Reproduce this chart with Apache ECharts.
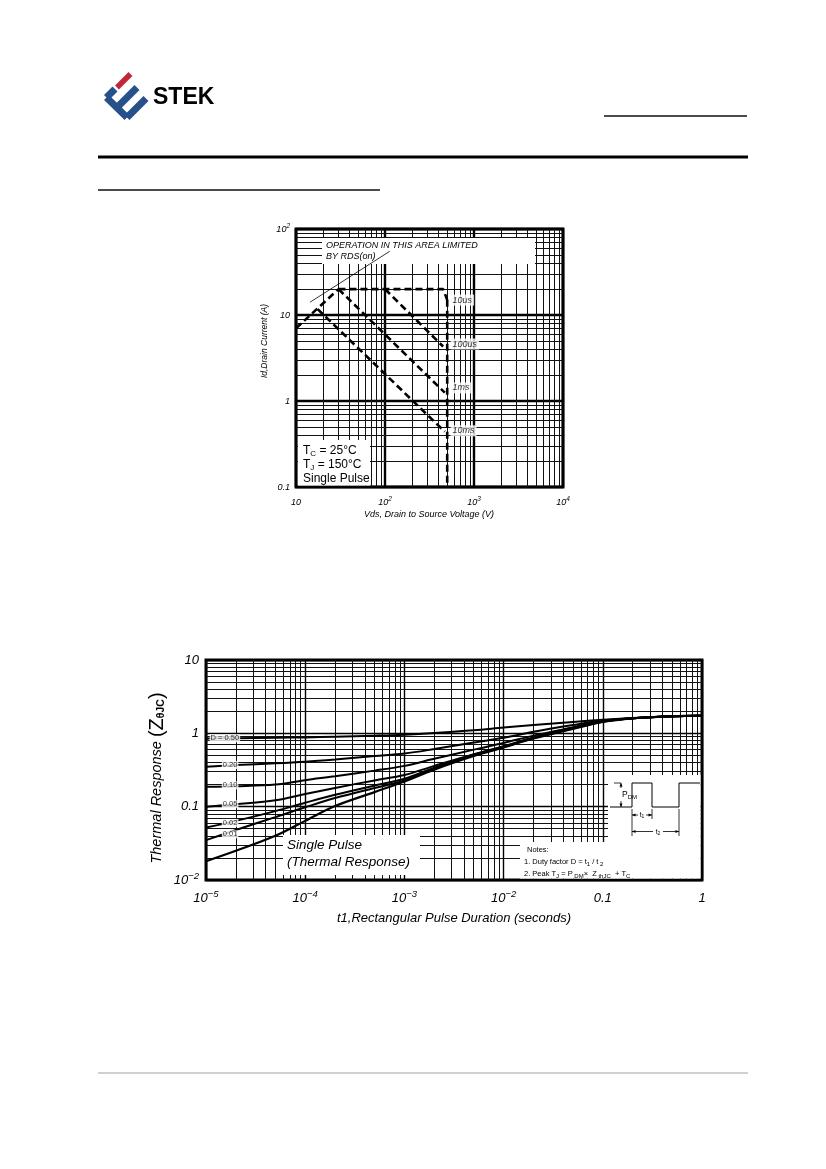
<!DOCTYPE html>
<html><head><meta charset="utf-8">
<script src="https://cdn.jsdelivr.net/npm/echarts@6/dist/echarts.min.js"></script>
<style>html,body{margin:0;padding:0;background:#fff;}#c{width:826px;height:1169px;}</style>
</head><body><div id="c"></div>
<script>
// ===== Safe Operating Area chart (Vds [V], Id [A]) =====
const soaRdsLimit = [[10, 7.0], [30, 20]];
const soa10us = [[30, 20], [450, 20], [500, 15]];
const soa100us = [[100, 20], [450, 4.3]];
const soa1ms = [[30, 20], [470, 1.25]];
const soa10ms = [[17.5, 11.7], [470, 0.44]];
const soaVdsLimit = [[500, 15], [500, 0.1]];
const soaPointer = [[14.4, 14.1], [113, 55]];
const soaLabelNames = ['10us', '100us', '1ms', '10ms'];
const soaLabelPos = [[505, 14.9], [505, 4.6], [505, 1.42], [505, 0.45]];
const soaXTicks = [10, 100, 1000, 10000];
const soaYTicks = [0.1, 1, 10, 100];

// ===== Transient thermal response chart (t1 [s], Zth) =====
const tPulse = [1e-5, 2e-5, 5e-5, 1e-4, 2e-4, 5e-4, 1e-3, 2e-3, 5e-3, 1e-2, 2e-2, 5e-2, 0.1, 0.2, 0.5, 1];
const zD050 = [0.85, 0.86, 0.87, 0.88, 0.90, 0.93, 0.96, 1.01, 1.10, 1.20, 1.30, 1.43, 1.53, 1.62, 1.71, 1.74];
const zD020 = [0.35, 0.37, 0.39, 0.41, 0.44, 0.49, 0.53, 0.61, 0.75, 0.87, 1.05, 1.30, 1.50, 1.61, 1.71, 1.74];
const zD010 = [0.187, 0.19, 0.20, 0.23, 0.26, 0.31, 0.36, 0.45, 0.60, 0.74, 0.93, 1.21, 1.47, 1.60, 1.71, 1.74];
const zD005 = [0.10, 0.108, 0.122, 0.149, 0.18, 0.228, 0.27, 0.36, 0.52, 0.67, 0.88, 1.18, 1.46, 1.60, 1.71, 1.74];
const zD002 = [0.052, 0.064, 0.087, 0.113, 0.145, 0.194, 0.24, 0.34, 0.51, 0.66, 0.87, 1.17, 1.45, 1.60, 1.71, 1.74];
const zD001 = [0.035, 0.048, 0.072, 0.098, 0.131, 0.18, 0.227, 0.33, 0.50, 0.65, 0.86, 1.16, 1.44, 1.60, 1.71, 1.74];
const zSingle = [0.018, 0.025, 0.040, 0.064, 0.102, 0.158, 0.221, 0.32, 0.49, 0.64, 0.85, 1.15, 1.43, 1.60, 1.71, 1.74];
const dLabelNames = ['D = 0.50', '0.20', '0.10', '0.05', '0.02', '0.01'];
const dLabelPos = [[1.55e-5, 0.855], [1.75e-5, 0.37], [1.75e-5, 0.195], [1.75e-5, 0.108], [1.75e-5, 0.06], [1.75e-5, 0.042]];
const thXTicks = [1e-5, 1e-4, 1e-3, 1e-2, 0.1, 1];
const thYTicks = [0.01, 0.1, 1, 10];

// ---------- helpers ----------
const FONT = '"Liberation Sans", Arial, Helvetica, sans-serif';
function minorLogValues(loExp, hiExp) {
  const out = [];
  for (let e = loExp; e < hiExp; e++) for (let k = 2; k <= 9; k++) out.push(k * Math.pow(10, e));
  return out;
}
function expOf(v) { return Math.round(Math.log10(v)); }
function soaLabel(v) {
  const e = expOf(v);
  if (e === -1) return '{b|0.1}';
  if (e === 0) return '{b|1}';
  if (e === 1) return '{b|10}';
  return '{b|10}{s|' + e + '}';
}
function thLabel(v) {
  const e = expOf(v);
  if (e === -1) return '{b|0.1}';
  if (e === 0) return '{b|1}';
  if (e === 1) return '{b|10}';
  return '{b|10}{s|\u2212' + Math.abs(e) + '}';
}
function pairs(xs, ys) { return xs.map((x, i) => [x, ys[i]]); }
function supRich(base, sup) {
  return {
    b: { fontSize: base, fontStyle: 'italic', fontFamily: FONT, color: '#000', lineHeight: Math.round(base * 1.35) },
    s: { fontSize: sup, fontStyle: 'italic', fontFamily: FONT, color: '#000', lineHeight: sup, verticalAlign: 'top' }
  };
}

const chart = echarts.init(document.getElementById('c'), null, { renderer: 'canvas', width: 826, height: 1169 });

// minor log grid lines drawn as segments through the axes
function gridLines(idx, xTicks, yTicks, color, width) {
  const x0 = xTicks[0], x1 = xTicks[xTicks.length - 1], y0 = yTicks[0], y1 = yTicks[yTicks.length - 1];
  const data = minorLogValues(expOf(x0), expOf(x1)).map(v => ({ coords: [[v, y0], [v, y1]] }))
    .concat(minorLogValues(expOf(y0), expOf(y1)).map(v => ({ coords: [[x0, v], [x1, v]] })));
  return { type: 'lines', coordinateSystem: 'cartesian2d', xAxisIndex: idx, yAxisIndex: idx, polyline: false, silent: true,
    z: 1, zlevel: 0, effect: { show: false }, lineStyle: { color, width, opacity: 1, curveness: 0 }, data };
}

const dash = { color: '#000', width: 2.6, type: [7, 4] };
const soaLine = (data) => ({ type: 'line', xAxisIndex: 0, yAxisIndex: 0, data, symbol: 'none', lineStyle: dash, zlevel: 2, z: 10, silent: true });
const thLine = (ys, w) => ({ type: 'line', xAxisIndex: 1, yAxisIndex: 1, data: pairs(tPulse, ys), symbol: 'none', smooth: 0.35, lineStyle: { color: '#000', width: w }, zlevel: 2, z: 10, silent: true });

// ---------- graphic decorations ----------
const ZL = 1;
function band(ax, ay, bx, by, w, fill) {
  const dx = bx - ax, dy = by - ay, L = Math.hypot(dx, dy);
  const nx = -dy / L * w / 2, ny = dx / L * w / 2;
  return { type: 'polygon', zlevel: ZL, z: 30, silent: true, shape: { points: [[ax + nx, ay + ny], [bx + nx, by + ny], [bx - nx, by - ny], [ax - nx, ay - ny]] }, style: { fill } };
}
const gl = (x1, y1, x2, y2, w, c) => ({ type: 'line', zlevel: ZL, z: 30, silent: true, shape: { x1, y1, x2, y2 }, style: { stroke: c || '#000', lineWidth: w || 1 } });
const gt = (x, y, text, font, extra) => Object.assign({ type: 'text', zlevel: ZL, z: 31, silent: true, x, y, style: Object.assign({ text, font, fill: '#000', align: 'left', verticalAlign: 'middle' }, (extra && extra.style) || {}) }, (extra && extra.el) || {});
const grect = (x, y, w, h) => ({ type: 'rect', zlevel: ZL, z: 5, silent: true, shape: { x, y, width: w, height: h }, style: { fill: '#fff' } });
const tri = (pts) => ({ type: 'polygon', zlevel: ZL, z: 30, silent: true, shape: { points: pts }, style: { fill: '#000' } });
const rt = (x, y, text, rich, extraStyle, extraEl) => Object.assign({ type: 'text', zlevel: ZL, z: 31, silent: true, x, y, style: Object.assign({ text, align: 'left', verticalAlign: 'middle', rich }, extraStyle || {}) }, extraEl || {});
const subRich = (a, s, la) => ({ a: { font: a, lineHeight: la }, s: { font: s, lineHeight: 6, verticalAlign: 'bottom' } });

const BLUE = '#26518a', RED = '#c3263a';
const graphics = [
  // logo
  band(106.5, 97.5, 127, 117.5, 7, BLUE),
  band(106.5, 97.5, 115, 89, 7, BLUE),
  band(117, 87.5, 130.5, 74, 5.5, RED),
  band(117, 107.5, 137, 87.5, 7, BLUE),
  band(127, 117.5, 146, 98.5, 7, BLUE),
  gt(153, 98, 'STEK', 'bold 23px ' + FONT),
  // page rules
  gl(604, 116, 747, 116, 1.6, '#111'),
  gl(98, 157, 748, 157, 3, '#000'),
  gl(98, 190, 380, 190, 1.6, '#111'),
  gl(98, 1073, 748, 1073, 0.8, '#888'),

  // SOA annotation boxes
  grect(322, 238, 213, 26),
  gt(326, 245, 'OPERATION IN THIS AREA LIMITED', 'italic 9px ' + FONT),
  gt(326, 256, 'BY RDS(on)', 'italic 9px ' + FONT),
  grect(298, 440, 72, 45.5),
  rt(303, 451, '{a|T}{s|C}{a| = 25\u00b0C}', subRich('12px ' + FONT, '8px ' + FONT, 14)),
  rt(303, 465, '{a|T}{s|J}{a| = 150\u00b0C}', subRich('12px ' + FONT, '8px ' + FONT, 14)),
  gt(303, 479, 'Single Pulse', '12px ' + FONT),
  // SOA axis titles
  gt(429, 514, 'Vds, Drain to Source Voltage (V)', 'italic 9px ' + FONT, { style: { align: 'center' } }),
  gt(265, 341, 'Id,Drain Current (A)', 'italic 8.5px ' + FONT, { style: { align: 'center' }, el: { rotation: Math.PI / 2 } }),

  // thermal chart boxes
  grect(283, 835, 137, 40),
  gt(287, 845, 'Single Pulse', 'italic 13.5px ' + FONT),
  gt(287, 862, '(Thermal Response)', 'italic 13.5px ' + FONT),
  { type: 'polygon', zlevel: ZL, z: 5, silent: true, shape: { points: [[608, 775], [700.5, 775], [700.5, 878.5], [520, 878.5], [520, 842], [608, 842]] }, style: { fill: '#fff' } },
  gt(527, 850, 'Notes:', '7.5px ' + FONT),
  rt(524, 862, '{a|1. Duty factor D = t}{s|1}{a| / t}{s| 2}', subRich('7.5px ' + FONT, '6px ' + FONT, 10)),
  rt(524, 874, '{a|2. Peak T}{s|J}{a| = P}{s| DM}{a|\u00d7  Z}{s| thJC}{a|  + T}{s|C}', subRich('7.5px ' + FONT, '6px ' + FONT, 10)),
  // pulse waveform inset
  { type: 'polyline', zlevel: ZL, z: 30, silent: true, shape: { points: [[610, 807], [632, 807], [632, 783], [652, 783], [652, 807], [679, 807], [679, 783], [700, 783]] }, style: { stroke: '#000', lineWidth: 1, fill: null } },
  gl(614, 783, 621, 783, 0.8),
  gl(621, 783, 621, 788, 0.8), tri([[621, 783], [619.5, 786.5], [622.5, 786.5]]),
  gl(621, 801, 621, 807, 0.8), tri([[621, 807], [619.5, 803.5], [622.5, 803.5]]),
  rt(622, 795, '{a|P}{s|DM}', subRich('8.5px ' + FONT, '6px ' + FONT, 10)),
  gl(632, 809, 632, 836, 0.8), gl(652, 809, 652, 819, 0.8), gl(679, 809, 679, 836, 0.8),
  gl(632, 815, 638, 815, 0.8), gl(646, 815, 652, 815, 0.8),
  tri([[632, 815], [635.5, 813.5], [635.5, 816.5]]), tri([[652, 815], [648.5, 813.5], [648.5, 816.5]]),
  rt(642, 815, '{a|t}{s|1}', subRich('7px ' + FONT, '5px ' + FONT, 9), { align: 'center' }),
  gl(632, 831.5, 653, 831.5, 0.8), gl(663, 831.5, 679, 831.5, 0.8),
  tri([[632, 831.5], [635.5, 830], [635.5, 833]]), tri([[679, 831.5], [675.5, 830], [675.5, 833]]),
  rt(658, 832, '{a|t}{s|2}', subRich('7px ' + FONT, '5px ' + FONT, 9), { align: 'center' }),
  // thermal axis titles
  gt(454, 918, 't1,Rectangular Pulse Duration (seconds)', 'italic 13px ' + FONT, { style: { align: 'center' } }),
  rt(157, 778, '{a|Thermal Response }{b|(Z}{c|\u03b8JC}{b|)}',
    { a: { font: 'italic 14.5px ' + FONT, lineHeight: 20, verticalAlign: 'middle' }, b: { font: '20px ' + FONT, lineHeight: 20 }, c: { font: 'bold 10.5px ' + FONT, lineHeight: 10, verticalAlign: 'bottom' } },
    { align: 'center' }, { rotation: Math.PI / 2 })
];

const axisCommon = { axisLine: { show: false }, axisTick: { show: false } };
const option = {
  animation: false,
  backgroundColor: '#fff',
  grid: [
    { left: 296, top: 229, width: 267, height: 258, show: true, borderColor: '#000', borderWidth: 3, backgroundColor: 'transparent' },
    { left: 206, top: 660, width: 496, height: 220, show: true, borderColor: '#000', borderWidth: 3, backgroundColor: 'transparent' }
  ],
  xAxis: [
    Object.assign({ gridIndex: 0, type: 'log', logBase: 10, min: soaXTicks[0], max: soaXTicks[soaXTicks.length - 1],
      splitLine: { show: true, lineStyle: { color: '#000', width: 2.4 } },
      axisLabel: { margin: 9, formatter: soaLabel, rich: supRich(9, 6.5) } }, axisCommon),
    Object.assign({ gridIndex: 1, type: 'log', logBase: 10, min: thXTicks[0], max: thXTicks[thXTicks.length - 1],
      splitLine: { show: true, lineStyle: { color: '#000', width: 1.4 } },
      axisLabel: { margin: 9, formatter: thLabel, rich: supRich(13, 9.5) } }, axisCommon)
  ],
  yAxis: [
    Object.assign({ gridIndex: 0, type: 'log', logBase: 10, min: soaYTicks[0], max: soaYTicks[soaYTicks.length - 1],
      splitLine: { show: true, lineStyle: { color: '#000', width: 2.4 } },
      axisLabel: { margin: 6, formatter: soaLabel, rich: supRich(9, 6.5) } }, axisCommon),
    Object.assign({ gridIndex: 1, type: 'log', logBase: 10, min: thYTicks[0], max: thYTicks[thYTicks.length - 1],
      splitLine: { show: true, lineStyle: { color: '#000', width: 1.4 } },
      axisLabel: { margin: 7, formatter: thLabel, rich: supRich(13, 9.5) } }, axisCommon)
  ],
  graphic: { elements: graphics },
  series: [
    gridLines(0, soaXTicks, soaYTicks, '#111', 1),
    gridLines(1, thXTicks, thYTicks, '#111', 1),
    soaLine(soaRdsLimit),
    soaLine(soa10us),
    soaLine(soa100us),
    soaLine(soa1ms),
    soaLine(soa10ms),
    soaLine(soaVdsLimit),
    { type: 'line', xAxisIndex: 0, yAxisIndex: 0, data: soaPointer, symbol: 'none', lineStyle: { color: '#000', width: 0.8 }, zlevel: 2, z: 10, silent: true },
    { type: 'scatter', xAxisIndex: 0, yAxisIndex: 0, symbolSize: 0, zlevel: 2, z: 12, silent: true,
      data: soaLabelNames.map((n, i) => ({ name: n, value: soaLabelPos[i] })),
      label: { show: true, position: 'right', distance: 3, formatter: '{b}', color: '#000', fontStyle: 'italic', fontSize: 9, fontFamily: FONT, backgroundColor: '#fff', padding: [1, 2] } },
    thLine(zD050, 2), thLine(zD020, 2), thLine(zD010, 2), thLine(zD005, 2), thLine(zD002, 2), thLine(zD001, 2), thLine(zSingle, 2.2),
    { type: 'scatter', xAxisIndex: 1, yAxisIndex: 1, symbolSize: 0, zlevel: 2, z: 12, silent: true,
      data: dLabelNames.map((n, i) => ({ name: n, value: dLabelPos[i] })),
      label: { show: true, position: 'inside', formatter: '{b}', color: '#000', fontSize: 7.5, fontFamily: FONT, backgroundColor: '#fff', padding: [0, 1] } }
  ]
};
chart.setOption(option);
</script>
</body></html>
